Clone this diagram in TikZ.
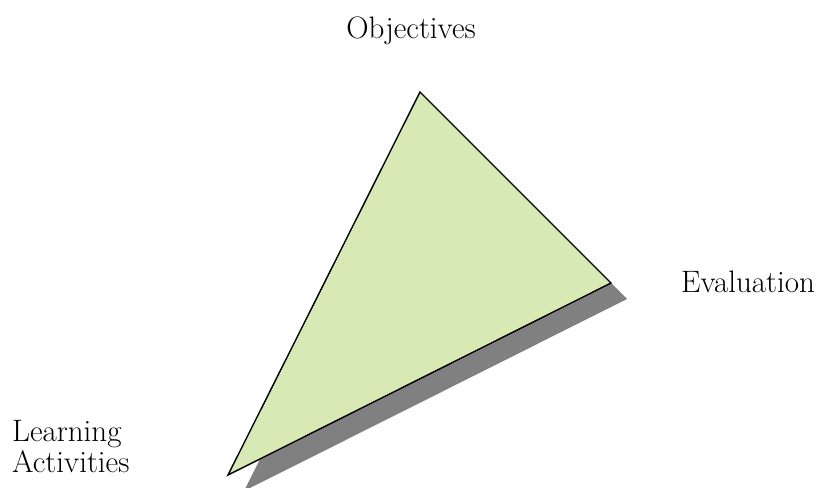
\documentclass[tikz,border=0pt]{standalone}
\usepackage{tikz}
\definecolor{trifill}{HTML}{D7E9B5}
\definecolor{trishade}{HTML}{808080}

\begin{document}
\begin{tikzpicture}[
  x=1pt, y=-1pt,
  corner/.style={font=\fontsize{31}{31}\selectfont, text=black, inner sep=0pt},
  shade/.style={fill=trishade, draw=none},
  face/.style={fill=trifill, draw=black, line width=1.4pt, line join=miter},
]
  \useasboundingbox (0,0) rectangle (829,487);

  %% Triangle corners
  \coordinate (obj) at (420,92);
  \coordinate (eval) at (611,283);
  \coordinate (learn) at (228,475);

  %% Shadow, then the triangle itself
  \fill[shade] ([shift={(16,16)}]obj) -- ([shift={(16,16)}]eval)
    -- ([shift={(16,16)}]learn) -- cycle;
  \filldraw[face] (obj) -- (eval) -- (learn) -- cycle;

  %% Corner labels
  \node[corner, anchor=base] (tobj) at (411,38) {Objectives};
  \node[corner, anchor=base] (teval) at (748,292) {Evaluation};
  \node[corner, anchor=base west, align=left] (tlearn) at (12,472)
    {Learning\\Activities};
\end{tikzpicture}
\end{document}
